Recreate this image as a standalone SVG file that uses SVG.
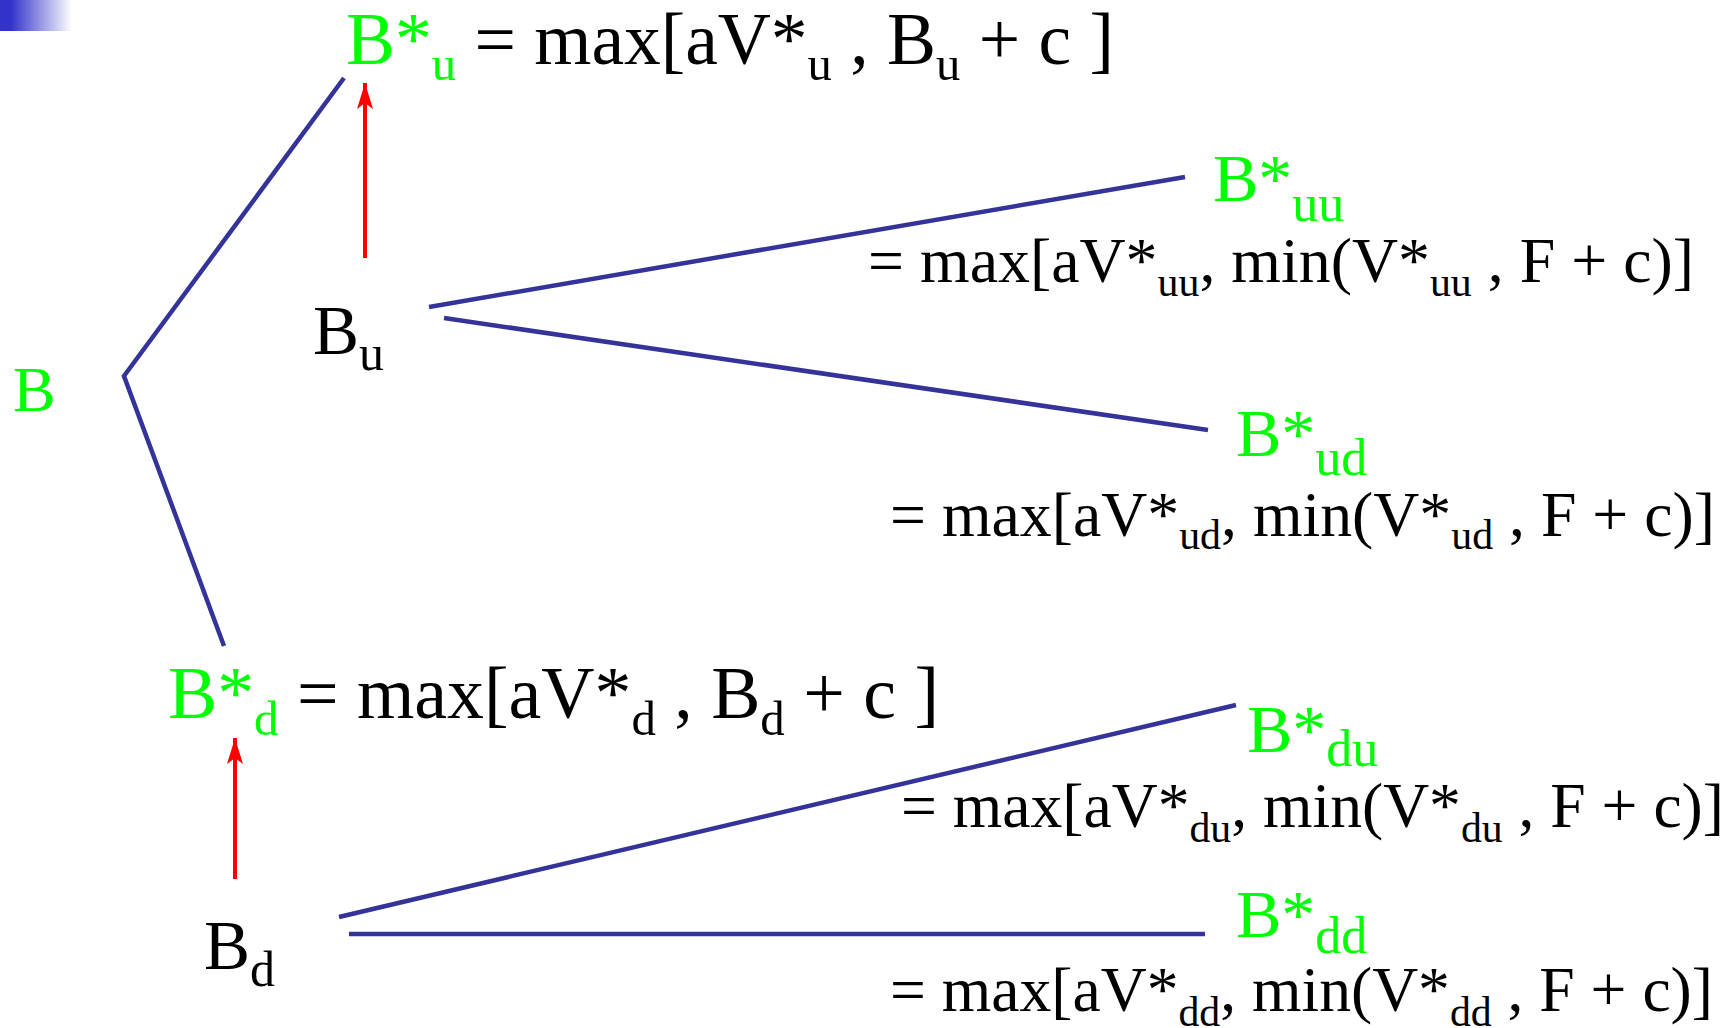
<svg xmlns="http://www.w3.org/2000/svg" width="1733" height="1028" viewBox="0 0 1733 1028">
<defs>
<linearGradient id="cornerGrad" x1="0" y1="0" x2="1" y2="0">
<stop offset="0" stop-color="#3333cc"/>
<stop offset="0.15" stop-color="#3333cc"/>
<stop offset="1" stop-color="#ffffff"/>
</linearGradient>
<marker id="redHead" viewBox="0 0 26 16" refX="26" refY="8" markerWidth="26" markerHeight="16" markerUnits="userSpaceOnUse" orient="auto">
<path d="M26,8 L0,0 L6,8 L0,16 Z" fill="#ff0000"/>
</marker>
<style>
.t{font-family:"Liberation Serif","Times New Roman",serif;fill:#000}
.g{fill:#00ff00}
.edge{stroke:#333399;stroke-width:4.5;fill:none}
.red{stroke:#ff0000;stroke-width:4;fill:none}
</style>
</defs>
<rect x="0" y="0" width="72" height="31" fill="url(#cornerGrad)"/>
<g id="connectors">
<polyline class="edge" points="344,78 124,376 224,646"/>
<line class="edge" x1="429" y1="307" x2="1185" y2="177"/>
<line class="edge" x1="444" y1="318" x2="1208" y2="430"/>
<line class="edge" x1="339" y1="917" x2="1236" y2="705"/>
<line class="edge" x1="349" y1="934" x2="1205" y2="934"/>
<line class="red" x1="365" y1="258" x2="365" y2="83" marker-end="url(#redHead)"/>
<line class="red" x1="235" y1="879" x2="235" y2="738" marker-end="url(#redHead)"/>
</g>
<g id="node-B">
<text class="t g" x="13" y="411" font-size="64">B</text>
</g>
<g id="node-Bu">
<text class="t" x="313" y="354" font-size="69">B<tspan font-size="50" dy="16">u</tspan></text>
</g>
<g id="node-Bd">
<text class="t" x="204" y="969" font-size="69">B<tspan font-size="50" dy="17">d</tspan></text>
</g>
<g id="node-Bstar-u">
<text class="t" x="346" y="64" font-size="74" textLength="768" lengthAdjust="spacingAndGlyphs"><tspan class="g">B*</tspan><tspan class="g" font-size="49" dy="16">u</tspan><tspan dy="-16"> = max[aV*</tspan><tspan font-size="49" dy="16">u</tspan><tspan dy="-16"> , B</tspan><tspan font-size="49" dy="16">u</tspan><tspan dy="-16"> + c ]</tspan></text>
</g>
<g id="node-Bstar-d">
<text class="t" x="168" y="718" font-size="74" textLength="771" lengthAdjust="spacingAndGlyphs"><tspan class="g">B*</tspan><tspan class="g" font-size="49" dy="17">d</tspan><tspan dy="-17"> = max[aV*</tspan><tspan font-size="49" dy="17">d</tspan><tspan dy="-17"> , B</tspan><tspan font-size="49" dy="17">d</tspan><tspan dy="-17"> + c ]</tspan></text>
</g>
<g id="node-Bstar-uu">
<text class="t g" x="1213" y="201" font-size="68">B*<tspan font-size="52" dy="20">uu</tspan></text>
<text class="t" x="868" y="282" font-size="64" textLength="826" lengthAdjust="spacingAndGlyphs">= max[aV*<tspan font-size="42" dy="14">uu</tspan><tspan dy="-14">, min(V*</tspan><tspan font-size="42" dy="14">uu</tspan><tspan dy="-14"> , F + c)]</tspan></text>
</g>
<g id="node-Bstar-ud">
<text class="t g" x="1236" y="456" font-size="68">B*<tspan font-size="52" dy="19">ud</tspan></text>
<text class="t" x="890" y="536" font-size="64" textLength="825" lengthAdjust="spacingAndGlyphs">= max[aV*<tspan font-size="42" dy="13">ud</tspan><tspan dy="-13">, min(V*</tspan><tspan font-size="42" dy="13">ud</tspan><tspan dy="-13"> , F + c)]</tspan></text>
</g>
<g id="node-Bstar-du">
<text class="t g" x="1247" y="752" font-size="68">B*<tspan font-size="52" dy="14">du</tspan></text>
<text class="t" x="901" y="827" font-size="64" textLength="823" lengthAdjust="spacingAndGlyphs">= max[aV*<tspan font-size="42" dy="15">du</tspan><tspan dy="-15">, min(V*</tspan><tspan font-size="42" dy="15">du</tspan><tspan dy="-15"> , F + c)]</tspan></text>
</g>
<g id="node-Bstar-dd">
<text class="t g" x="1236" y="937" font-size="68">B*<tspan font-size="52" dy="16">dd</tspan></text>
<text class="t" x="890" y="1011" font-size="64" textLength="823" lengthAdjust="spacingAndGlyphs">= max[aV*<tspan font-size="42" dy="15">dd</tspan><tspan dy="-15">, min(V*</tspan><tspan font-size="42" dy="15">dd</tspan><tspan dy="-15"> , F + c)]</tspan></text>
</g>
</svg>
